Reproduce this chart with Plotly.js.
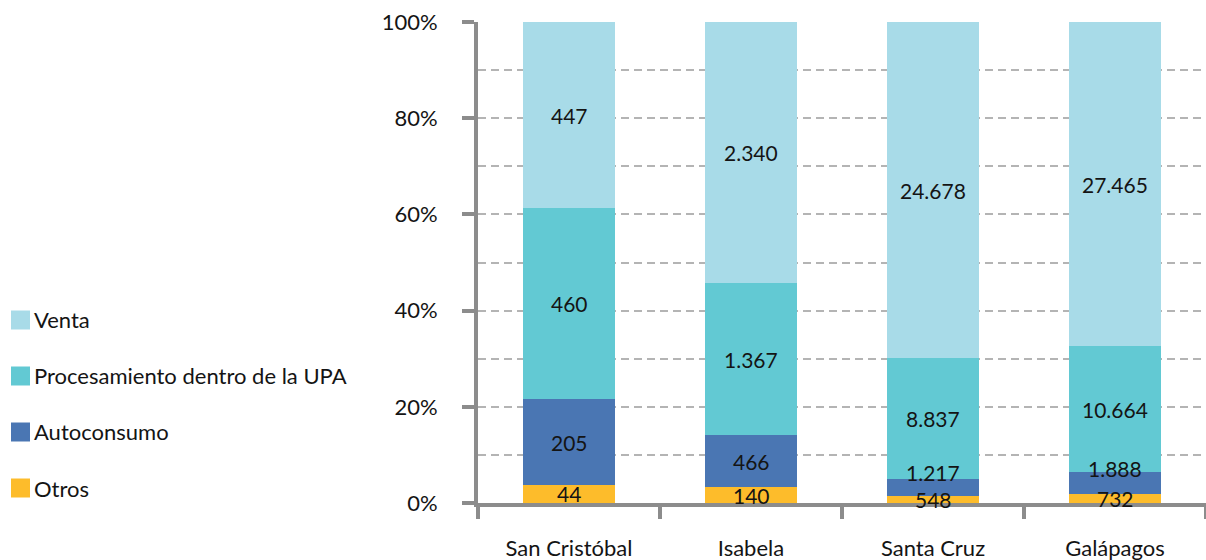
<!DOCTYPE html>
<html>
<head>
<meta charset="utf-8">
<script src="https://cdn.plot.ly/plotly-3.0.1.min.js"></script>
<style>html,body{margin:0;padding:0;background:#fff;}#chart{width:1206px;height:560px;}</style>
</head>
<body>
<div id="chart"></div>
<script>
const categories = ['San Cristóbal', 'Isabela', 'Santa Cruz', 'Galápagos'];
const otros = [44, 140, 548, 732];
const autoconsumo = [205, 466, 1217, 1888];
const procesamiento = [460, 1367, 8837, 10664];
const venta = [447, 2340, 24678, 27465];
const seriesNames = ['Otros', 'Autoconsumo', 'Procesamiento dentro de la UPA', 'Venta'];
const seriesColors = ['#fdbc2b', '#4a76b3', '#62c9d3', '#a8dbe8'];
const yTickVals = [0, 20, 40, 60, 80, 100];
const yTickText = ['0%', '20%', '40%', '60%', '80%', '100%'];

const series = [otros, autoconsumo, procesamiento, venta];
const FONT = 'Lato, "Open Sans", sans-serif';
const TXT = '#141414';

// plot-area geometry (pixels)
const W = 1206, H = 560, ML = 478, MR = 0, MT = 22, MB = 57;
const PW = W - ML - MR, PH = H - MT - MB;
const px2x = p => (p - ML) / PW;
const px2y = q => (H - MB - q) / PH;

function fmt(n) {
  return String(n).replace(/\B(?=(\d{3})+(?!\d))/g, '.');
}

const traces = series.map((vals, i) => ({
  type: 'bar',
  name: seriesNames[i],
  x: categories,
  y: vals,
  marker: { color: seriesColors[i], line: { width: 0 } },
  showlegend: false,
  hoverinfo: 'skip'
}));

// Data labels centred in each segment (computed from the data)
const annotations = [];
categories.forEach((cat, c) => {
  const total = series.reduce((s, arr) => s + arr[c], 0);
  let cum = 0;
  series.forEach((arr, i) => {
    const pct = arr[c] / total * 100;
    const mid = cum + pct / 2;
    let shift = 0;
    if (i > 0 && pct < 6) shift = 15;
    annotations.push({
      x: cat, y: mid, xref: 'x', yref: 'y',
      text: fmt(arr[c]), showarrow: false, yshift: shift,
      font: { family: FONT, size: 21, color: TXT }
    });
    cum += pct;
  });
});

// Legend (Venta on top, Otros at the bottom)
const shapes = [];
const legendTop = 320, legendStep = 56, sw = 19;
for (let k = 0; k < series.length; k++) {
  const i = series.length - 1 - k;
  const cy = legendTop + k * legendStep;
  shapes.push({
    type: 'rect', xref: 'paper', yref: 'paper', layer: 'above',
    x0: px2x(11), x1: px2x(11 + sw), y0: px2y(cy + sw / 2), y1: px2y(cy - sw / 2),
    fillcolor: seriesColors[i], line: { width: 0 }
  });
  annotations.push({
    xref: 'paper', yref: 'paper', x: px2x(32), y: px2y(cy),
    xanchor: 'left', yanchor: 'middle', showarrow: false,
    text: seriesNames[i], font: { family: FONT, size: 22, color: TXT }
  });
}

const layout = {
  width: W, height: H,
  margin: { l: ML, r: MR, t: MT, b: MB },
  paper_bgcolor: '#ffffff', plot_bgcolor: '#ffffff',
  barmode: 'stack', barnorm: 'percent', bargap: 0.49,
  font: { family: FONT, size: 20, color: TXT },
  showlegend: false,
  xaxis: {
    type: 'category',
    showline: true, linecolor: '#8c8c8c', linewidth: 4,
    ticks: 'outside', tickson: 'boundaries', ticklen: 12, tickwidth: 4, tickcolor: '#8c8c8c',
    ticklabelstandoff: 23,
    tickfont: { family: FONT, size: 22, color: TXT },
    showgrid: false, zeroline: false, fixedrange: true
  },
  yaxis: {
    range: [0, 100],
    tickvals: yTickVals, ticktext: yTickText,
    showline: true, linecolor: '#8c8c8c', linewidth: 4,
    ticks: 'outside', ticklen: 12, tickwidth: 4, tickcolor: '#8c8c8c',
    ticklabelstandoff: 20,
    tickfont: { family: FONT, size: 22, color: TXT },
    showgrid: true, gridcolor: '#b4b4b4', gridwidth: 2, griddash: '8px,5px',
    minor: { dtick: 10, showgrid: true, gridcolor: '#b4b4b4', gridwidth: 2, griddash: '8px,5px', ticks: '' },
    zeroline: false, fixedrange: true
  },
  shapes: shapes,
  annotations: annotations
};

Plotly.newPlot('chart', traces, layout, { displayModeBar: false, staticPlot: true });
</script>
</body>
</html>
